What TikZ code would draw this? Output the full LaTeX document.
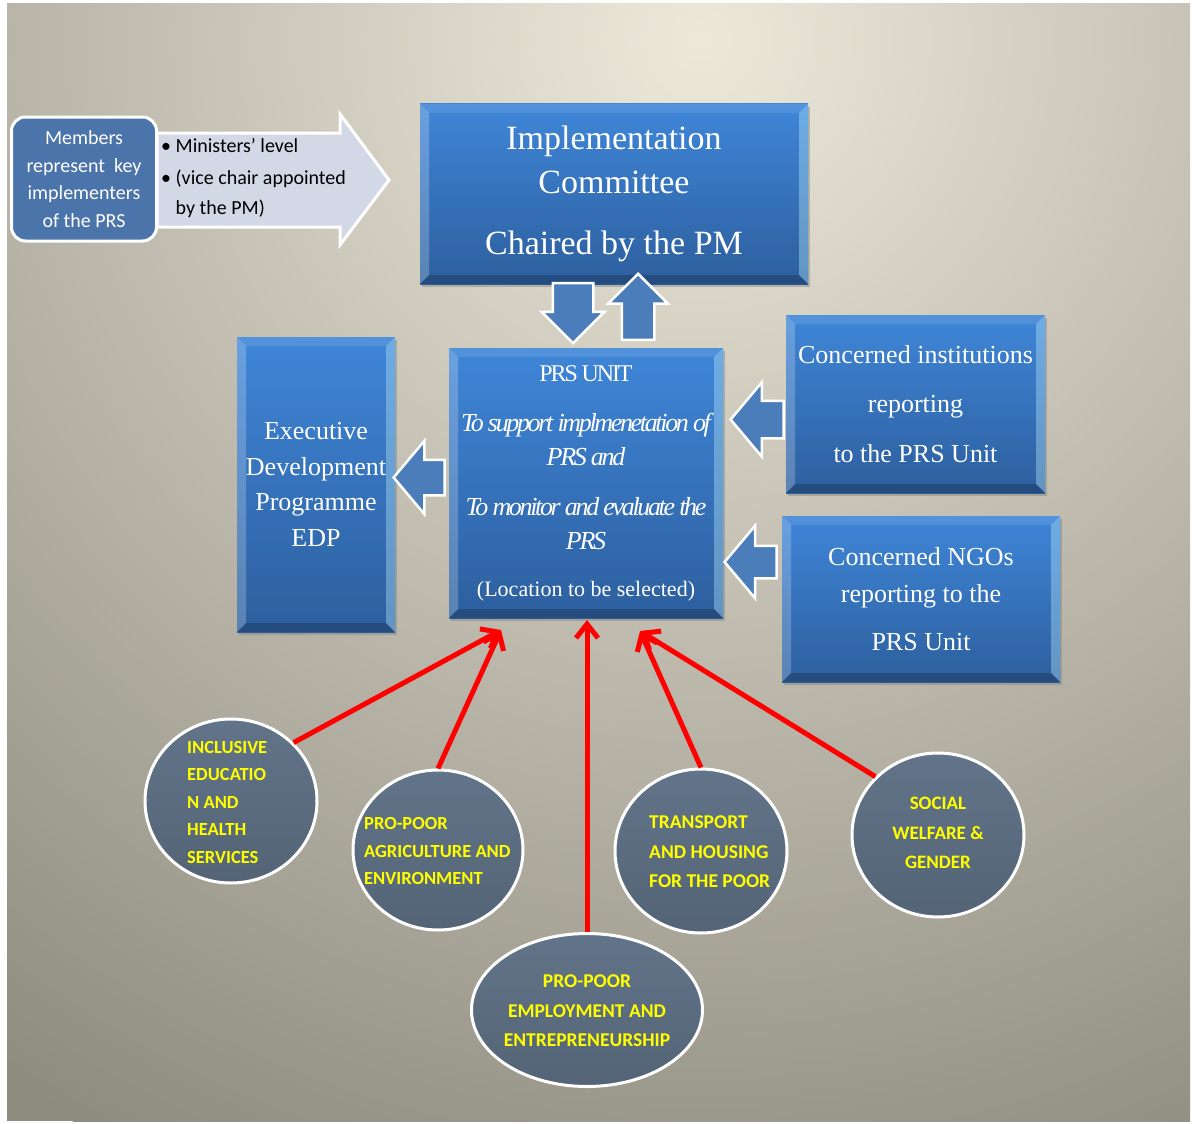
\documentclass[tikz,border=0pt]{standalone}
\usepackage{fontspec}
\setmainfont{Liberation Serif}
\newfontfamily\calibri{Carlito}
\newfontfamily\tightserif{Liberation Serif}[LetterSpace=-9]
\usetikzlibrary{shapes.geometric,shapes.arrows,arrows.meta,shadows}
\definecolor{bgLight}{HTML}{ECE9DB}
\definecolor{bgDark}{HTML}{8E8B7F}
\definecolor{boxTop}{HTML}{3F86D8}
\definecolor{boxBottom}{HTML}{2D5F9E}
\definecolor{memberBlue}{HTML}{4A74AA}
\definecolor{roleGrey}{HTML}{D3D8E6}
\definecolor{arrowBlue}{HTML}{4B7DBA}
\definecolor{topicTop}{HTML}{627489}
\definecolor{topicBottom}{HTML}{546476}
\definecolor{topicText}{HTML}{FFFF00}
\begin{document}
\begin{tikzpicture}[x=1pt,y=-1pt,
    bevel/.style={path picture={
      \path (path picture bounding box.north west) coordinate (bNW)
            (path picture bounding box.north east) coordinate (bNE)
            (path picture bounding box.south west) coordinate (bSW)
            (path picture bounding box.south east) coordinate (bSE);
      \fill[white,opacity=.22] (bNW) -- ([shift={(9pt,-9pt)}]bNW) -- ([shift={(9pt,9pt)}]bSW) -- (bSW) -- cycle;
      \fill[cyan!30!white,opacity=.4] (bNE) -- ([shift={(-9pt,-9pt)}]bNE) -- ([shift={(-9pt,9pt)}]bSE) -- (bSE) -- cycle;
      \fill[white,opacity=.1] (bNW) -- ([shift={(9pt,-9pt)}]bNW) -- ([shift={(-9pt,-9pt)}]bNE) -- (bNE) -- cycle;
      \fill[black,opacity=.2] (bSW) -- ([shift={(9pt,9pt)}]bSW) -- ([shift={(-9pt,9pt)}]bSE) -- (bSE) -- cycle;
    }},
    box/.style={text=white, align=center, inner sep=0pt, top color=boxTop, bottom color=boxBottom,
      drop shadow={shadow xshift=2pt,shadow yshift=-3pt,opacity=.45}, bevel},
    blockarrow/.style={single arrow, draw=white, line width=2.5pt, fill=arrowBlue, inner xsep=0pt, single arrow tip angle=90, anchor=tip},
    topic/.style={ellipse, draw=white, line width=3pt, top color=topicTop, bottom color=topicBottom, inner sep=0pt},
    topictext/.style={text=topicText, inner sep=0pt, font=\calibri\bfseries\fontsize{19.5}{29.5}\selectfont},
    redarrow/.style={draw=red, line width=5pt, -{Straight Barb[length=14pt,width=22pt]}}]
  \useasboundingbox (0,0) rectangle (1195,1124);
  \fill[white] (0,0) rectangle (1195,1124);
  \begin{scope}
    \clip (7,4) rectangle (1190,1121);
    \fill[bgDark] (7,4) rectangle (1190,1121);
    \shade[inner color=bgLight, outer color=bgDark] (700,40) circle (1250);
  \end{scope}

  % members and their level
  \draw[white, line width=3pt, fill=roleGrey] (157,133) -- (340,133) -- (340,114) -- (389,180) -- (340,245) -- (340,227) -- (157,227) -- cycle;
  \node[draw=white, line width=3pt, fill=memberBlue, rounded corners=14pt, minimum width=145pt, minimum height=124pt,
    text=white, align=center, inner sep=0pt, font=\calibri\fontsize{20}{27.5}\selectfont] (members) at (84,179)
    {Members\\represent~ key\\implementers\\of the PRS};
  \node[anchor=west, align=left, inner sep=0pt, font=\calibri\fontsize{20}{30}\selectfont] (roles) at (161,178)
    {•\ Ministers’ level\\[2pt]•\ (vice chair appointed\\\hphantom{•\ }by the PM)};

  % boxes
  \node[box, minimum width=388pt, minimum height=180pt, font=\fontsize{34}{44}\selectfont] (committee) at (614,194)
    {Implementation\\Committee\\[17pt]Chaired by the PM};
  \node[box, minimum width=274pt, minimum height=270pt, font=\fontsize{26}{34}\selectfont] (prs) at (586,483)
    {{\tightserif\fontsize{24}{34}\selectfont PRS UNIT}\\[16pt]
     {\tightserif\itshape To support implmenetation of}\\
     {\tightserif\itshape PRS and}\\[16pt]
     {\tightserif\itshape To monitor and evaluate the}\\
     {\tightserif\itshape PRS}\\[13pt]
     {\fontsize{22}{30}\selectfont (Location to be selected)}};
  \node[box, minimum width=158pt, minimum height=295pt, font=\fontsize{26}{35.5}\selectfont] (edp) at (316,484.5)
    {Executive\\Development\\Programme\\EDP};
  \node[box, minimum width=259pt, minimum height=178pt, font=\fontsize{26}{49.5}\selectfont] (inst) at (915.5,404)
    {Concerned institutions\\reporting\\to the PRS Unit};
  \node[box, minimum width=278pt, minimum height=166pt, font=\fontsize{26}{37}\selectfont] (ngo) at (921,599)
    {Concerned NGOs\\reporting to the\\[11pt]PRS Unit};

  % block arrows
  \node[blockarrow, rotate=270, minimum height=60pt, inner ysep=19pt, single arrow head extend=11pt] (down) at (573,345) {};
  \node[blockarrow, rotate=90, minimum height=66pt, inner ysep=15pt, single arrow head extend=13.5pt] (up) at (638,272) {};
  \node[blockarrow, rotate=180, minimum height=51pt, inner ysep=16.5pt, single arrow head extend=19pt, single arrow tip angle=100] (toedp) at (392,477.5) {};
  \node[blockarrow, rotate=180, minimum height=53pt, inner ysep=17.5pt, single arrow head extend=18.5pt, single arrow tip angle=100] (frominst) at (729,419.5) {};
  \node[blockarrow, rotate=180, minimum height=52pt, inner ysep=15pt, single arrow head extend=20pt, single arrow tip angle=100] (fromngo) at (723,562) {};

  % policy areas
  \node[topic, minimum width=172pt, minimum height=164pt] (incl) at (231,801) {};
  \node[topic, minimum width=170pt, minimum height=160pt] (agri) at (438,850) {};
  \node[topic, minimum width=231pt, minimum height=153pt] (empl) at (587,1010) {};
  \node[topic, minimum width=172pt, minimum height=164pt] (trans) at (701,851) {};
  \node[topic, minimum width=172pt, minimum height=164pt] (social) at (938,835) {};
  \node[topictext, align=left, anchor=west, font=\calibri\bfseries\fontsize{18.5}{27.5}\selectfont] (inclT) at (187,802)
    {INCLUSIVE\\EDUCATIO\\N AND\\HEALTH\\SERVICES};
  \node[topictext, align=left, anchor=west, font=\calibri\bfseries\fontsize{18.5}{27.5}\selectfont] (agriT) at (364,851)
    {PRO-POOR\\AGRICULTURE AND\\ENVIRONMENT};
  \node[topictext, align=center] (emplT) at (587,1011) {PRO-POOR\\EMPLOYMENT AND\\ENTREPRENEURSHIP};
  \node[topictext, align=left, anchor=west] (transT) at (649,852) {TRANSPORT\\AND HOUSING\\FOR THE POOR};
  \node[topictext, align=center, font=\calibri\bfseries\fontsize{19}{29.5}\selectfont] (socialT) at (938,833) {SOCIAL\\WELFARE \&\\GENDER};

  \coordinate (tipL) at (501,630);
  \coordinate (tipC) at (587,620);
  \coordinate (tipR) at (640,631);
  \draw[redarrow] (incl.43) -- (tipL);
  \draw[redarrow] (agri.north) -- (tipL);
  \draw[redarrow] (empl.north) -- (tipC);
  \draw[redarrow] (trans.north) -- (tipR);
  \draw[redarrow] (social.137) -- (tipR);
\end{tikzpicture}
\end{document}
